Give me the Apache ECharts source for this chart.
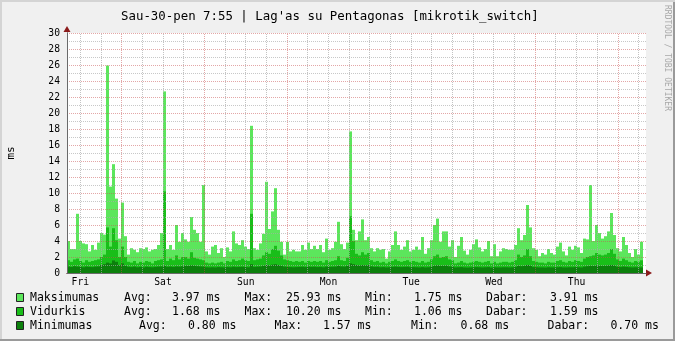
<!DOCTYPE html>
<html>
<head>
<meta charset="utf-8">
<script src="https://cdn.jsdelivr.net/npm/echarts@6/dist/echarts.min.js"></script>
<style>
html,body{margin:0;padding:0;background:#f0f0f0;}
#chart{width:675px;height:341px;}
</style>
</head>
<body>
<div id="chart"></div>
<script>
// ---- Data (ms), one value per time slot ----
const dayLabels = ['Fri', 'Sat', 'Sun', 'Mon', 'Tue', 'Wed', 'Thu'];

const maksFri = [4.0,3.0,3.0,7.4,4.0,3.7,3.6,2.7,3.5,2.9,3.8,5.0,4.8,25.93,10.8,13.6,9.3,4.3,8.8,4.6,2.3,3.1,2.9,2.6,3.1,3.0,3.2,2.7,2.9,3.0,3.5,5.0,22.7,3.0,3.5,2.9,6.0,3.9,5.0];
const maksSat = [4.2,3.9,7.0,5.4,5.0,3.9,11.0,2.7,2.3,3.3,3.5,2.5,3.1,2.0,3.2,2.7,5.2,3.7,3.5,4.1,3.3,3.0,18.4,3.1,2.9,3.7,4.9,11.4,5.5,7.7,10.6,5.4,3.9,2.3,3.9,2.7,2.9,2.7];
const maksMon = [2.7,3.5,2.9,3.8,3.0,3.4,3.0,3.5,2.6,4.3,2.9,3.1,3.9,6.4,3.6,3.0,3.8,17.7,5.4,4.1,5.2,6.7,4.1,4.5,3.1,2.7,3.1,2.9,3.0,1.8,2.7,3.5,5.2,3.5,2.9,3.3,4.1,2.7,2.9];
const maksTue = [3.3,2.9,4.5,2.4,3.1,4.1,6.0,6.8,3.9,5.2,5.2,3.3,4.1,2.0,3.4,4.5,2.8,2.3,2.9,3.6,4.2,3.2,2.7,3.0,4.0,2.1,3.6,2.1,2.7,3.1,3.0,2.9,2.9,3.5,5.6,4.1,4.75,8.5,5.7];
const maksThu = [3.1,2.9,2.1,2.5,2.3,3.0,2.5,2.3,3.3,3.8,2.7,2.2,3.3,2.9,3.4,3.2,2.5,4.3,4.2,11.0,4.0,6.0,5.0,4.3,4.6,5.2,7.5,4.75,3.1,2.7,4.5,3.5,2.5,2.0,3.0,2.3,3.91];

const vidFri = [1.6,1.4,1.7,1.8,1.5,1.3,1.6,1.4,1.5,1.6,1.7,2.0,2.3,5.7,3.3,5.6,4.1,2.0,3.3,2.0,1.4,1.3,1.5,1.2,1.4,1.3,1.5,1.4,1.2,1.5,1.6,1.7,10.2,1.5,1.8,1.6,2.2,1.7,2.0];
const vidSat = [2.0,1.8,2.6,1.9,1.8,1.7,1.6,1.3,1.2,1.3,1.2,1.3,1.4,1.2,1.5,1.4,1.7,1.5,1.6,1.8,1.6,1.5,7.4,1.6,1.7,1.8,2.2,2.6,2.4,3.0,3.4,2.8,2.2,1.7,1.6,1.5,1.4,1.5];
const vidMon = [1.4,1.5,1.3,1.5,1.4,1.5,1.4,1.5,1.3,1.6,1.4,1.5,1.6,2.1,1.6,1.5,1.9,7.1,4.0,2.4,2.2,2.6,2.3,2.5,1.6,1.4,1.5,1.3,1.4,1.2,1.4,1.5,1.7,1.5,1.4,1.5,1.6,1.4,1.5];
const vidTue = [1.4,1.3,1.5,1.3,1.4,1.7,2.1,2.3,1.9,2.0,2.1,1.7,1.6,1.2,1.3,1.5,1.3,1.2,1.3,1.4,1.5,1.4,1.3,1.4,1.5,1.2,1.4,1.2,1.3,1.4,1.4,1.3,1.4,1.6,2.3,2.0,2.2,3.0,2.1];
const vidThu = [1.5,1.4,1.3,1.3,1.2,1.4,1.3,1.3,1.5,1.6,1.4,1.3,1.5,1.4,1.6,1.5,1.4,1.8,2.0,2.1,2.2,2.5,2.3,2.2,2.3,2.5,3.0,2.4,1.7,1.5,1.8,1.6,1.4,1.3,1.5,1.4,1.59];

const minFri = [0.8,0.75,0.85,0.8,0.78,0.72,0.8,0.76,0.74,0.8,0.82,1.0,1.1,1.3,1.2,1.57,1.4,1.0,1.2,0.9,0.78,0.74,0.8,0.72,0.76,0.7,0.78,0.74,0.72,0.76,0.8,0.82,0.9,0.78,0.8,0.76,0.82,0.8,0.85];
const minSat = [0.9,0.88,0.95,0.9,0.85,0.82,0.8,0.72,0.7,0.72,0.7,0.74,0.72,0.7,0.74,0.72,0.78,0.74,0.76,0.78,0.74,0.72,1.1,0.76,0.8,0.82,0.9,1.0,0.95,1.05,1.1,1.0,0.9,0.8,0.76,0.74,0.72,0.74];
const minMon = [0.76,0.78,0.74,0.8,0.76,0.78,0.74,0.76,0.72,0.8,0.76,0.78,0.8,0.9,0.82,0.8,0.9,1.2,1.1,1.0,0.95,1.0,0.96,1.0,0.82,0.76,0.78,0.72,0.74,0.7,0.72,0.76,0.8,0.76,0.74,0.76,0.78,0.72,0.74];
const minTue = [0.72,0.7,0.74,0.7,0.72,0.8,0.9,0.95,0.88,0.9,0.92,0.82,0.78,0.7,0.72,0.74,0.7,0.68,0.7,0.72,0.74,0.72,0.7,0.72,0.74,0.68,0.72,0.7,0.7,0.72,0.72,0.7,0.72,0.76,0.9,0.85,0.88,1.0,0.9];
const minThu = [0.74,0.72,0.7,0.7,0.68,0.72,0.7,0.7,0.72,0.74,0.7,0.7,0.72,0.72,0.74,0.72,0.7,0.8,0.85,0.9,0.88,0.95,0.9,0.88,0.9,0.95,1.0,0.92,0.78,0.74,0.8,0.76,0.72,0.7,0.72,0.7,0.70];

const maksimumas = [].concat(maksFri, maksSat, maksMon, maksTue, maksThu);
const vidurkis = [].concat(vidFri, vidSat, vidMon, vidTue, vidThu);
const minimumas = [].concat(minFri, minSat, minMon, minTue, minThu);

// legend texts
const legendNames = ['Maksimumas', 'Vidurkis', 'Minimumas'];
const legendAvg = ['3.97 ms', '1.68 ms', '0.80 ms'];
const legendMax = ['25.93 ms', '10.20 ms', '1.57 ms'];
const legendMin = ['1.75 ms', '1.06 ms', '0.68 ms'];
const legendCur = ['3.91 ms', '1.59 ms', '0.70 ms'];

// time slots (one week, starting Thu 08:20), 193 slots over the axis
const slotCount = 193;
const categories = Array.from({length: slotCount}, (_, i) => 'slot' + i);

// ---- Styling ----
const colMax = '#5ce65c', colAvg = '#19be19', colMin = '#0c800c';
const FONT = 'DejaVu Sans Mono';
const startHour = 8 + 20 / 60;       // axis starts Thu 08:20
const totalHours = 168;
const halfPxH = 0.145;                // half a pixel in hours, for crisp lines

// vertical grid lines every 6 hours (major at midnight)
const vLines = [];
for (let h = 24 - startHour - 12; h < totalHours; h += 6) {
  if (h <= 0) continue;
  const major = Math.abs(((h + startHour) % 24)) < 0.01;
  vLines.push({
    xAxis: h + halfPxH,
    lineStyle: {
      color: major ? 'rgba(200,80,80,0.5)' : 'rgba(170,170,170,0.7)',
      type: [1, 1], width: 1
    }
  });
}
// day labels (~noon)
const dayLabelHours = dayLabels.map((d, k) => 12.2 - startHour + 24 * k);

// legend graphic
const legendGraphics = [];
const colPos = [
  [124, 172, 244.5, 286, 365, 414, 486, 550],
  [124, 172, 244.5, 286, 365, 414, 486, 550],
  [139, 188, 274.6, 323, 411, 460.6, 547.6, 610.4]
];
const legendColors = [colMax, colAvg, colMin];
legendNames.forEach((n, r) => {
  const y = 298 + 14 * r;
  legendGraphics.push({type: 'rect', shape: {x: 16.5, y: y - 4.5, width: 7, height: 8},
    style: {fill: legendColors[r], stroke: '#222', lineWidth: 1}});
  const parts = [n, 'Avg:', legendAvg[r], 'Max:', legendMax[r], 'Min:', legendMin[r], 'Dabar:', legendCur[r]];
  const xs = [30].concat(colPos[r]);
  parts.forEach((t, j) => {
    legendGraphics.push({type: 'text', x: xs[j], y: y,
      style: {text: t, font: '11.5px "' + FONT + '"', fill: '#000', textVerticalAlign: 'middle', textAlign: 'left'}});
  });
});

const option = {
  animation: false,
  backgroundColor: '#f0f0f0',
  title: {
    text: "Sau-30-pen 7:55 | Lag'as su Pentagonas [mikrotik_switch]",
    left: 116, top: 6,
    textStyle: {fontFamily: FONT, fontSize: 12.4, fontWeight: 'normal', color: '#000'}
  },
  grid: {left: 67, right: 29, top: 33, bottom: 68, show: true, backgroundColor: '#ffffff', borderWidth: 0,
    containLabel: false, outerBoundsMode: 'none'},
  xAxis: [
    {
      type: 'category', data: categories, boundaryGap: true, position: 'bottom', z: 7,
      axisLine: {show: true, lineStyle: {color: '#6a6a6a', width: 1}},
      axisTick: {show: false}, axisLabel: {show: false}, splitLine: {show: false}
    },
    {
      type: 'value', min: 0, max: totalHours, position: 'bottom', z: 6,
      axisLine: {show: true, symbol: ['none', 'triangle'], symbolSize: [7, 6], symbolOffset: [0, 3],
        lineStyle: {color: '#8b1a1a', width: 1}},
      axisTick: {show: false}, splitLine: {show: false},
      axisLabel: {
        show: true, customValues: dayLabelHours, margin: 4,
        fontFamily: FONT, fontSize: 9.7, color: '#000',
        formatter: (v) => dayLabels[Math.round((v - dayLabelHours[0]) / 24)]
      }
    }
  ],
  yAxis: [
    {
      type: 'value', min: 0, max: 30, interval: 2, position: 'left', z: 5,
      name: 'ms', nameLocation: 'middle', nameRotate: 90, nameGap: 50,
      nameTextStyle: {fontFamily: FONT, fontSize: 11, color: '#000'},
      axisLine: {show: true, lineStyle: {color: '#6a6a6a', width: 1}},
      axisTick: {show: false},
      axisLabel: {fontFamily: FONT, fontSize: 9.7, color: '#000', margin: 7},
      splitLine: {show: true, lineStyle: {color: 'rgba(200,80,80,0.5)', type: [1, 1], width: 1}},
      minorTick: {show: false, splitNumber: 2},
      minorSplitLine: {show: true, lineStyle: {color: 'rgba(170,170,170,0.65)', type: [1, 1], width: 1}}
    },
    {
      type: 'value', min: 0, max: 30, interval: 2, position: 'left', z: 4,
      axisLine: {show: true, symbol: ['none', 'triangle'], symbolSize: [7, 6], symbolOffset: [0, 4],
        lineStyle: {color: '#8b1a1a', width: 1}},
      axisTick: {show: false}, axisLabel: {show: false}, splitLine: {show: false}
    }
  ],
  series: [
    {name: 'Maksimumas', type: 'bar', xAxisIndex: 0, yAxisIndex: 0, data: maksimumas,
      itemStyle: {color: colMax}, barCategoryGap: '0%', barGap: '-100%', silent: true, z: 2},
    {name: 'Vidurkis', type: 'bar', xAxisIndex: 0, yAxisIndex: 0, data: vidurkis,
      itemStyle: {color: colAvg}, barCategoryGap: '0%', barGap: '-100%', silent: true, z: 2},
    {name: 'Minimumas', type: 'bar', xAxisIndex: 0, yAxisIndex: 0, data: minimumas,
      itemStyle: {color: colMin}, barCategoryGap: '0%', barGap: '-100%', silent: true, z: 2},
    {name: 'grid', type: 'line', xAxisIndex: 1, yAxisIndex: 0, data: [], silent: true, z: 5,
      markLine: {silent: true, symbol: ['none', 'none'], animation: false, label: {show: false}, data: vLines}}
  ],
  graphic: [
    {type: 'rect', shape: {x: 0, y: 339, width: 675, height: 2}, style: {fill: '#9a9a9a'}, silent: true},
    {type: 'rect', shape: {x: 673, y: 0, width: 2, height: 341}, style: {fill: '#9a9a9a'}, silent: true},
    {type: 'rect', shape: {x: 0, y: 0, width: 675, height: 2}, style: {fill: '#d4d4d4'}, silent: true},
    {type: 'rect', shape: {x: 0, y: 0, width: 2, height: 339}, style: {fill: '#d4d4d4'}, silent: true},
    {type: 'text', x: 671, y: 5, rotation: -Math.PI / 2,
      style: {text: 'RRDTOOL / TOBI OETIKER', font: '8px "' + FONT + '"', fill: '#a8a8a8', textVerticalAlign: 'top', textAlign: 'left'}}
  ].concat(legendGraphics)
};

const chart = echarts.init(document.getElementById('chart'), null, {renderer: 'canvas'});
chart.setOption(option);
</script>
</body>
</html>
